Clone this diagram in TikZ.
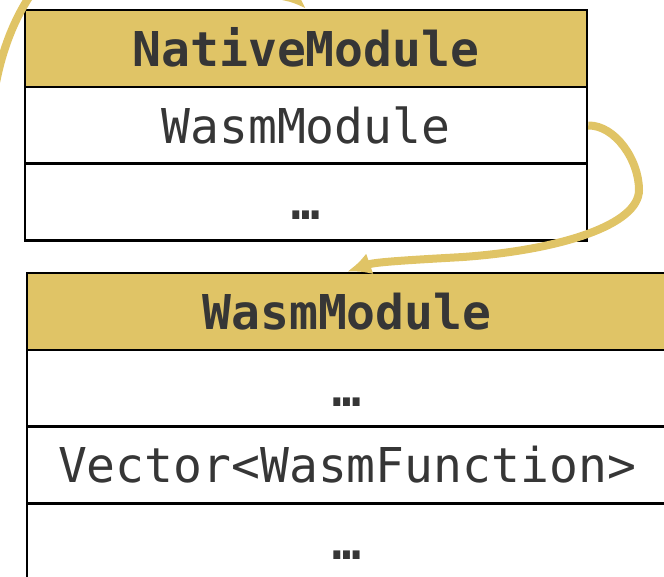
\documentclass[tikz,border=0pt]{standalone}
\usepackage{fontspec}
\setmonofont{DejaVu Sans Mono}
\usetikzlibrary{arrows.meta}
\definecolor{gold}{HTML}{E0C466}
\definecolor{ink}{HTML}{363636}
\begin{document}
\begin{tikzpicture}[x=1pt,y=-1pt,
  cell/.style={draw=black, line width=2.5pt, minimum height=77pt, inner sep=0pt,
    text height=35pt, text depth=0pt, text=ink,
    font=\fontsize{48}{58}\selectfont\ttfamily},
  hdr/.style={cell, fill=gold, font=\fontsize{48}{58}\selectfont\ttfamily\bfseries},
  topw/.style={minimum width=562pt},
  botw/.style={minimum width=640pt},
  link/.style={draw=gold, line width=8pt, -{Latex[length=24pt,width=22pt]}}]
\useasboundingbox (0,0) rectangle (664,576);
\clip (0,0) rectangle (664,576);
% NativeModule box
\node[hdr, topw] (nm) at (306,48.5) {NativeModule};
\node[cell, topw] (nmwasm) at (306,125.5) {WasmModule};
\node[cell, topw] (nmdots) at (306,202) {\bfseries …};
% WasmModule box
\node[hdr, botw] (wm) at (347,311.5) {WasmModule};
\node[cell, botw] (wmdots1) at (347,388.5) {\bfseries …};
\node[cell, botw] (wmvec) at (347,465) {Vector<WasmFunction>};
\node[cell, botw] (wmdots2) at (347,541.5) {\bfseries …};
% connectors
\coordinate (src) at (-10,140);
\draw[link] (src) .. controls (-5,-60) and (150,-140) .. (nm.north);
\draw[link] (nmwasm.east) .. controls (615,125) and (639,160) .. (639,190)
  .. controls (639,225) and (560,250) .. (463,257)
  .. controls (410,260) and (375,262) .. (wm.north);
\end{tikzpicture}
\end{document}
